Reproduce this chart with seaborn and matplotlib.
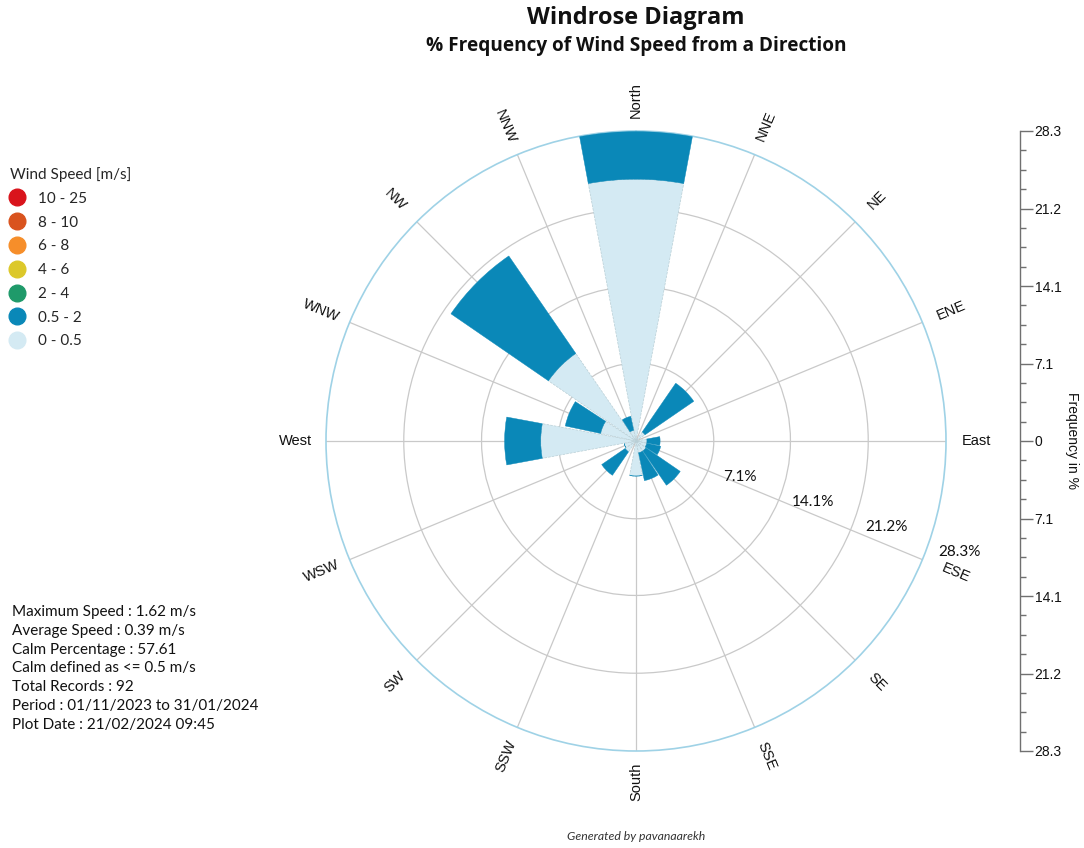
import numpy as np
import matplotlib
matplotlib.use("Agg")
import matplotlib.pyplot as plt
from matplotlib.lines import Line2D
import seaborn as sns

# ---- data -------------------------------------------------------------
directions = ["N", "NNE", "NE", "ENE", "E", "ESE", "SE", "SSE",
              "S", "SSW", "SW", "WSW", "W", "WNW", "NW", "NNW"]
direction_labels = ["North", "NNE", "NE", "ENE", "East", "ESE", "SE", "SSE",
                    "South", "SSW", "SW", "WSW", "West", "WNW", "NW", "NNW"]
# % frequency per direction for each speed class
freq_0_05 = [23.9, 0.0, 1.0, 0.0, 1.0, 1.0, 1.1, 1.1,
             3.2, 0.0, 1.2, 1.1, 8.7, 3.3, 9.7, 1.0]
freq_05_2 = [4.36, 0.0, 5.4, 0.0, 1.2, 1.3, 3.8, 2.6,
             0.0, 0.0, 2.6, 0.0, 3.3, 3.3, 10.8, 1.3]

speed_classes = ["10 - 25", "8 - 10", "6 - 8", "4 - 6", "2 - 4", "0.5 - 2", "0 - 0.5"]
class_colors = ["#d9141c", "#d9531e", "#f68e2a", "#dcc82a", "#1f9a6a", "#0a88b8", "#d4eaf3"]

ring_values = [7.1, 14.1, 21.2, 28.3]
scale_labels = ["28.3", "21.2", "14.1", "7.1", "0", "7.1", "14.1", "21.2", "28.3"]

stats_lines = [
    "Maximum Speed : 1.62 m/s",
    "Average Speed : 0.39 m/s",
    "Calm Percentage : 57.61",
    "Calm defined as <= 0.5 m/s",
    "Total Records : 92",
    "Period : 01/11/2023 to 31/01/2024",
    "Plot Date : 21/02/2024 09:45",
]

# ---- style ------------------------------------------------------------
sns.set_theme(style="white")
plt.rcParams["font.family"] = ["Liberation Sans", "DejaVu Sans"]
body_font = ["Lato", "DejaVu Sans"]

W, H = 1084, 848
fig = plt.figure(figsize=(W / 100, H / 100), dpi=100)
fig.patch.set_facecolor("white")

cx, cy, R = 636, 441, 310
ax = fig.add_axes([(cx - R) / W, (H - cy - R) / H, 2 * R / W, 2 * R / H],
                  projection="polar")
ax.set_theta_zero_location("N")
ax.set_theta_direction(-1)
ax.set_facecolor("white")

theta = np.deg2rad(np.arange(len(directions)) * 22.5)
width = np.deg2rad(21)
calm = np.array(freq_0_05)
low = np.array(freq_05_2)

ax.bar(theta, calm, width=width, bottom=0, color=class_colors[6],
       edgecolor="#b9cfd6", linewidth=0.5, linestyle="--", zorder=3)
ax.bar(theta, low, width=width, bottom=calm, color=class_colors[5],
       edgecolor=class_colors[5], linewidth=0.3, zorder=3)

ax.set_ylim(0, ring_values[-1])
ax.set_xticks(theta)
ax.set_xticklabels([])
ax.set_yticks(ring_values[:-1])
ax.set_yticklabels([])
ax.grid(True, color="#c9c9c9", linewidth=0.9)
ax.set_axisbelow(True)
ax.spines["polar"].set_color("#9fd2e6")
ax.spines["polar"].set_linewidth(1.2)

# direction names, aligned radially
for th, deg, lab in zip(theta, np.arange(16) * 22.5, direction_labels):
    screen = 90 - deg
    rot = screen % 180
    if rot > 90:
        rot -= 180
    r_lab = 31.55 if lab == "ESE" else 31.1
    ax.text(th, r_lab, lab, rotation=rot, rotation_mode="anchor",
            ha="center", va="center", fontsize=10.5, color="#111111",
            clip_on=False)

# ring value labels along the ESE side
for v in ring_values:
    ax.text(np.deg2rad(109.0), v + 2.95, f"{v}%", ha="center", va="center",
            fontsize=11, family=body_font, color="#111111", clip_on=False)

# ---- frequency scale on the right ------------------------------------
sx = 1020
ax2 = fig.add_axes([(sx - 1) / W, (H - cy - R) / H, 1 / W, 2 * R / H])
ax2.set_ylim(-ring_values[-1], ring_values[-1])
ax2.set_xticks([])
for side in ["left", "top", "bottom"]:
    ax2.spines[side].set_visible(False)
ax2.spines["right"].set_color("#707070")
ax2.spines["right"].set_linewidth(1.0)
ax2.yaxis.tick_right()
ax2.set_yticks(np.linspace(-ring_values[-1], ring_values[-1], 9))
ax2.set_yticklabels(scale_labels[::-1])
ax2.set_yticks(np.linspace(-ring_values[-1], ring_values[-1], 33), minor=True)
ax2.tick_params(axis="y", which="major", direction="out", length=9, width=1.0,
                color="#707070", labelsize=10, pad=1.5, labelcolor="#111111")
ax2.tick_params(axis="y", which="minor", direction="out", length=4.5, width=1.0,
                color="#707070")
ax2.patch.set_alpha(0)
fig.text(1072 / W, 1 - cy / H, "Frequency in %", rotation=270,
         ha="center", va="center", fontsize=10, color="#111111")

# ---- titles -----------------------------------------------------------
fig.text(cx / W, 1 - 18 / H, "Windrose Diagram", ha="center", va="center",
         fontsize=17, fontweight="bold", family=["Open Sans", "DejaVu Sans"], color="#111111")
fig.text(cx / W, 1 - 46 / H, "% Frequency of Wind Speed from a Direction",
         ha="center", va="center", fontsize=13.7, fontweight="bold",
         family=["Open Sans", "DejaVu Sans"], color="#111111")

# ---- legend -----------------------------------------------------------
handles = [Line2D([0], [0], marker="o", linestyle="none", markersize=12,
                  markerfacecolor=c, markeredgecolor=c) for c in class_colors]
leg = fig.legend(handles, speed_classes, title="Wind Speed [m/s]",
                 loc="upper left", bbox_to_anchor=(4 / W, 1 - 161 / H),
                 frameon=False, alignment="left", handlelength=0.9,
                 handletextpad=0.9, labelspacing=0.64, borderaxespad=0,
                 prop={"family": body_font, "size": 11},
                 title_fontproperties={"family": body_font, "size": 11})

# ---- summary text -----------------------------------------------------
for i, line in enumerate(stats_lines):
    fig.text(12 / W, 1 - (612 + i * 18.8) / H, line, ha="left", va="center",
             fontsize=11, family=body_font, color="#111111")

fig.text(cx / W, 1 - 836 / H, "Generated by pavanaarekh", ha="center",
         va="center", fontsize=8.8, style="italic", family=body_font,
         color="#333333")

fig.savefig("out.png", dpi=100, facecolor="white")
